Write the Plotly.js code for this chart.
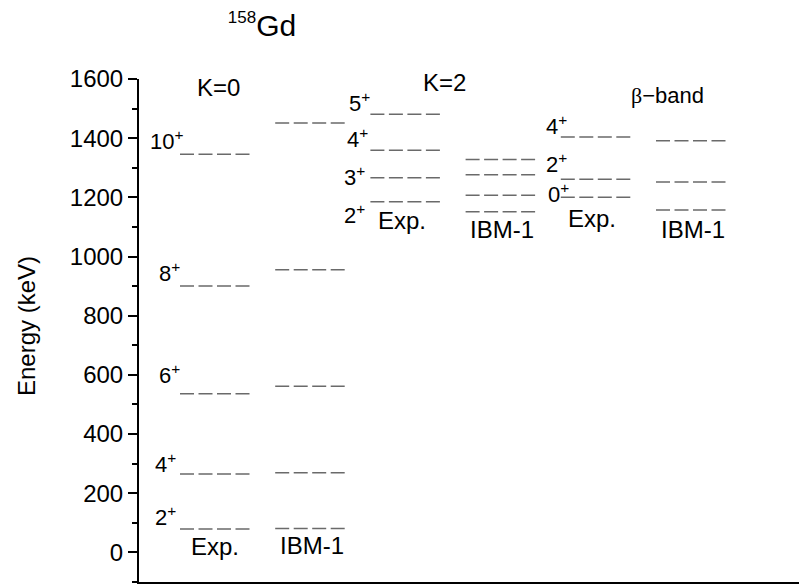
<!DOCTYPE html>
<html><head><meta charset="utf-8">
<script src="https://cdn.plot.ly/plotly-3.0.1.min.js"></script>
<style>body{margin:0;padding:0;background:#fff}#chart{width:799px;height:587px}</style>
</head><body><div id="chart"></div>
<script>
// ---- data (keV) ----
const k0Spins = [2, 4, 6, 8, 10];
const k0Exp   = [79, 265, 536, 900, 1346];
const k0IBM   = [81, 269, 562, 955, 1451];
const k2Spins = [2, 3, 4, 5];
const k2Exp   = [1185, 1266, 1359, 1481];
const k2IBM   = [1151, 1207, 1276, 1328];
const bSpins  = [0, 2, 4];
const bExp    = [1200, 1261, 1404];
const bIBM    = [1157, 1252, 1391];
const yTicks  = [0, 200, 400, 600, 800, 1000, 1200, 1400, 1600];

// ---- layout helpers (x axis in pixel-like units) ----
const colStart = i => 41 + 95.2 * i;
const colW = 73;
const FONT = "Liberation Sans, Arial, sans-serif";
const lineColor = "#6a6a6a";

const columns = [
  {vals: k0Exp, i: 0}, {vals: k0IBM, i: 1},
  {vals: k2Exp, i: 2}, {vals: k2IBM, i: 3},
  {vals: bExp, i: 4},  {vals: bIBM, i: 5}
];
const traces = columns.map(c => {
  const xs = [], ys = [];
  c.vals.forEach(v => { xs.push(colStart(c.i), colStart(c.i) + colW, null); ys.push(v, v, null); });
  return {x: xs, y: ys, type: "scatter", mode: "lines", hoverinfo: "skip",
          line: {color: lineColor, width: 1.5, dash: "14px,4.5px"}, showlegend: false};
});

// spin labels: [spins, values, column, yshift(px, up=+), xshift(px)]
const labelSets = [
  [k0Spins, k0Exp, 0, [13, 11, 20, 14, 14], [-2, -2, 2, 2, 5]],
  [k2Spins, k2Exp, 2, [-12, 2, 12, 12], [-3, -3, 0, 2]],
  [bSpins,  bExp,  4, [4, 16, 12], [10, 8, 8]]
];
const annotations = [];
labelSets.forEach(([spins, vals, col, ys, xs]) => {
  spins.forEach((s, k) => {
    annotations.push({x: colStart(col), y: vals[k], xref: "x", yref: "y",
      text: s + "<sup>+</sup>", showarrow: false, xanchor: "right", yanchor: "middle",
      xshift: xs[k], yshift: ys[k], font: {family: FONT, size: 22, color: "#000"}});
  });
});
// Exp./IBM-1 labels under the lowest level of each column
const capShiftY = [-17, -17, -19, -18, -21, -19];
const capShiftX = [-2, 0, -5, 0, -5, 0];
columns.forEach((c, j) => {
  annotations.push({x: colStart(c.i) + colW / 2, y: Math.min(...c.vals), xref: "x", yref: "y",
    text: (j % 2 === 0) ? "Exp." : "IBM-1", showarrow: false, xanchor: "center", yanchor: "middle",
    xshift: capShiftX[j], yshift: capShiftY[j], font: {family: FONT, size: 24, color: "#000"}});
});
// band headers
annotations.push({x: 79.5, y: 1571, xref: "x", yref: "y", text: "K=0", showarrow: false,
  font: {family: FONT, size: 24, color: "#000"}});
annotations.push({x: 305.5, y: 1588, xref: "x", yref: "y", text: "K=2", showarrow: false,
  font: {family: FONT, size: 24, color: "#000"}});
annotations.push({x: 528.5, y: 1544, xref: "x", yref: "y",
  text: "<span style=\"font-family:'Liberation Serif'\">β</span>−band", showarrow: false,
  font: {family: FONT, size: 22, color: "#000"}});
// y-axis title
annotations.push({x: (26 - 139) / 660, y: (582 - 326) / 503, xref: "paper", yref: "paper",
  text: "Energy (keV)", textangle: -90, showarrow: false, xanchor: "center", yanchor: "middle",
  font: {family: FONT, size: 24, color: "#000"}});

const layout = {
  width: 799, height: 587,
  margin: {l: 139, r: 0, t: 79, b: 5},
  paper_bgcolor: "#fff", plot_bgcolor: "#fff",
  title: {text: "<sup><span style=\"font-size:17px\">158</span></sup>Gd",
          x: 262 / 799, xanchor: "center", y: 1 - 25 / 587, yanchor: "middle",
          font: {family: FONT, size: 30, color: "#000"}},
  xaxis: {range: [0, 660], showgrid: false, zeroline: false, showticklabels: false, ticks: "",
          showline: true, linecolor: "#000", linewidth: 2, fixedrange: true},
  yaxis: {range: [-100, 1600], showgrid: false, zeroline: false, showline: true, linecolor: "#000",
          linewidth: 2, ticks: "outside", ticklen: 9, tickwidth: 2, tickcolor: "#000",
          tickvals: yTicks, ticktext: yTicks.map(String),
          minor: {dtick: 100, tick0: 0, ticks: "outside", ticklen: 5, tickwidth: 2, tickcolor: "#000", showgrid: false},
          tickfont: {family: FONT, size: 24, color: "#000"}},
  shapes: [{type: "line", xref: "paper", yref: "paper", x0: -6 / 660, x1: 0, y0: 0, y1: 0,
            line: {color: "#000", width: 2}}],
  annotations: annotations
};
Plotly.newPlot("chart", traces, layout, {displayModeBar: false, staticPlot: true});
</script></body></html>
